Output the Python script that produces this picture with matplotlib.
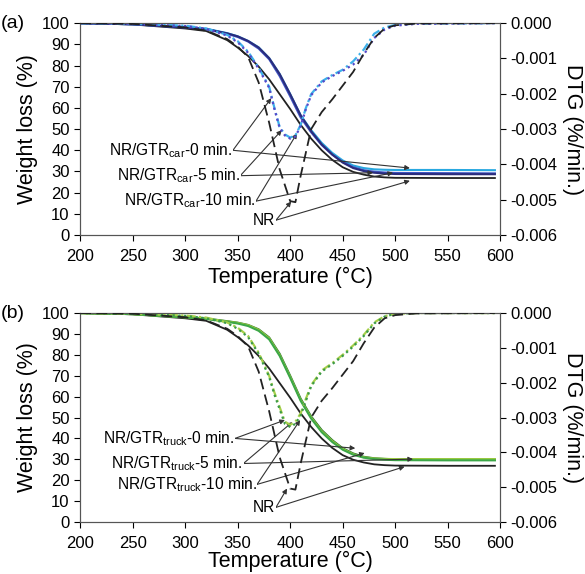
import matplotlib

matplotlib.use("Agg")

import matplotlib.pyplot as plt

plt.rcParams["font.family"] = ["Liberation Sans", "DejaVu Sans"]

# temperature grids (°C)
T_TG = [200, 250, 300, 320, 340, 350, 360, 370, 380, 390, 400, 410, 420, 430,
        440, 450, 460, 470, 480, 490, 500, 550, 595]
T_DTG_NR = [200, 250, 300, 320, 340, 350, 360, 370, 380, 390, 400, 405, 410, 420,
            430, 440, 450, 460, 470, 480, 490, 500, 520, 595]
T_DTG = [200, 250, 300, 320, 340, 350, 360, 370, 380, 385, 390, 395, 400, 405,
         410, 415, 420, 430, 440, 450, 460, 470, 480, 490, 500, 520, 595]

# weight loss (%) - NR (same in both panels)
TG_NR = [100, 99.4, 97.5, 96.3, 92, 88.5, 84.5, 79.5, 73.5, 66.5, 59.5, 52, 45.5,
         40, 35.5, 32, 29.8, 28.5, 27.6, 27.2, 27.0, 26.9, 26.9]
DTG_NR = [0, -0.00002, -0.00012, -0.00021, -0.00045, -0.00066, -0.00096, -0.00168,
          -0.00282, -0.00414, -0.00504, -0.00507, -0.00432, -0.00300, -0.00252,
          -0.00216, -0.00177, -0.00138, -0.00087, -0.00042, -0.00015, -0.00006,
          -0.00001, 0]

# (a) GTR car
TG_CAR_0 = [100, 99.5, 98.2, 97.4, 95.3, 93.8, 91.6, 88.6, 83.5, 76, 66.5, 56.5,
            49.5, 43.5, 38.8, 35.2, 32.8, 31.6, 31.0, 30.8, 30.7, 30.7, 30.6]
TG_CAR_5 = [100, 99.5, 98, 97.2, 95, 93.5, 91.3, 88, 83, 75, 65.5, 55.5, 48.5,
            42.5, 38, 34.5, 32, 30.6, 29.9, 29.5, 29.3, 29.2, 29.1]
TG_CAR_10 = [100, 99.5, 98, 97.2, 95.2, 93.8, 91.6, 88.5, 83.5, 76, 66.5, 56.5,
             49, 42.8, 38, 34.2, 31.6, 30.2, 29.4, 29.0, 28.8, 28.7, 28.7]
DTG_CAR_0 = [0, -0.00002, -0.00007, -0.00015, -0.00033, -0.00051, -0.00081, -0.00126,
             -0.00180, -0.00240, -0.00294, -0.00315, -0.00324, -0.00318, -0.00288,
             -0.00240, -0.00201, -0.00165, -0.00147, -0.00132, -0.00108, -0.00075,
             -0.00030, -0.00012, -0.00005, -0.00001, 0]
DTG_CAR_10 = [0, -0.00002, -0.00008, -0.00016, -0.00035, -0.00054, -0.00084, -0.00129,
              -0.00183, -0.00243, -0.00297, -0.00318, -0.00327, -0.00321, -0.00291,
              -0.00243, -0.00204, -0.00168, -0.00150, -0.00135, -0.00117, -0.00090,
              -0.00042, -0.00018, -0.00007, -0.00002, 0]

# (b) GTR truck
TG_TRUCK_0 = [100, 99.5, 98, 97.3, 96, 95.3, 94.2, 92, 88, 80, 69.5, 58.5, 50,
              43.5, 38.8, 35, 32.5, 31, 30.4, 30.2, 30.1, 30.1, 30.1]
TG_TRUCK_5 = [100, 99.5, 98, 97.2, 95.8, 95, 93.8, 91.5, 87.4, 79.5, 69, 58, 49.5,
              43, 38.3, 34.6, 32.2, 30.8, 30.1, 29.8, 29.6, 29.5, 29.5]
TG_TRUCK_10 = [100, 99.5, 98.1, 97.4, 96.1, 95.4, 94.3, 92.2, 88.3, 80.5, 70, 59,
               50.5, 44, 39.2, 35.3, 32.8, 31.2, 30.5, 30.2, 30.0, 29.9, 29.9]
DTG_TRUCK_0 = [0, -0.00002, -0.00007, -0.00013, -0.00027, -0.00042, -0.00066, -0.00114,
               -0.00180, -0.00228, -0.00270, -0.00312, -0.00321, -0.00312, -0.00288,
               -0.00246, -0.00207, -0.00165, -0.00144, -0.00120, -0.00093, -0.00063,
               -0.00027, -0.00009, -0.00002, 0, 0]
DTG_TRUCK_10 = [0, -0.00002, -0.00008, -0.00015, -0.00029, -0.00045, -0.00069, -0.00117,
                -0.00183, -0.00234, -0.00276, -0.00318, -0.00327, -0.00318, -0.00294,
                -0.00252, -0.00210, -0.00168, -0.00147, -0.00123, -0.00096, -0.00066,
                -0.00030, -0.00010, -0.00002, 0, 0]

# annotations: (label, text anchor (T, W), [arrow targets (T, W)])
ANN_CAR = [
    ("NR/GTR$_{\\mathregular{car}}$-0 min.", (345, 40), [(382, 64.6), (514, 31.6)]),
    ("NR/GTR$_{\\mathregular{car}}$-5 min.", (352, 28), [(392, 49.5), (479, 29.4)]),
    ("NR/GTR$_{\\mathregular{car}}$-10 min.", (367, 16), [(406.5, 48), (498, 29.4)]),
    ("NR", (386, 7), [(401, 15.8), (514, 25.6)]),
]
ANN_TRUCK = [
    ("NR/GTR$_{\\mathregular{truck}}$-0 min.", (347, 40), [(395, 48.8), (462, 35.3)]),
    ("NR/GTR$_{\\mathregular{truck}}$-5 min.", (355, 28), [(402, 47.8), (517, 30.1)]),
    ("NR/GTR$_{\\mathregular{truck}}$-10 min.", (368, 18), [(409.5, 48.8), (471, 33)]),
    ("NR", (386, 7), [(397, 16), (509, 26.5)]),
]

CAR_COLORS = ["#29A8E0", "#3F55C4", "#2B2C7C"]
CAR_DTG_COLORS = ["#3DB0EA", "#5648C8"]
TRUCK_COLORS = ["#1E6F30", "#9BCB3C", "#3CA748"]
TRUCK_DTG_COLORS = ["#A6D04A", "#3C9A48"]


def _draw_panel(ax, tg_list, tg_colors, dtg_list, dtg_colors, ann, tag, xpad):
    ax.plot(T_TG, TG_NR, color="#222222", lw=1.3, zorder=3)
    for tg, c in zip(tg_list, tg_colors):
        ax.plot(T_TG, tg, color=c, lw=1.5, zorder=3)
    ax.set_xlim(200, 600)
    ax.set_ylim(0, 100)
    ax.set_xticks(range(200, 601, 50))
    ax.set_yticks(range(0, 101, 10))
    ax.tick_params(labelsize=12, length=4, width=0.8)
    ax.tick_params(axis="x", pad=6)
    ax.set_xlabel("Temperature (°C)", fontsize=15.5, labelpad=xpad)
    ax.set_ylabel("Weight loss (%)", fontsize=15.5, labelpad=3)
    ax.text(-0.19, 1.0, tag, transform=ax.transAxes, fontsize=14, va="center")
    for sp in ax.spines.values():
        sp.set_color("#555555")

    ax2 = ax.twinx()
    ax2.plot(T_DTG_NR, DTG_NR, color="#222222", lw=1.3, ls=(0, (6, 3)), zorder=3)
    ax2.plot(T_DTG, dtg_list[0], color=dtg_colors[0], lw=1.6, ls=(0, (4, 1.5, 1, 1.5)))
    ax2.plot(T_DTG, dtg_list[1], color=dtg_colors[1], lw=1.6, ls=(0, (1, 1.6)))
    ax2.set_ylim(-0.006, 0.0)
    ax2.set_yticks([-0.006, -0.005, -0.004, -0.003, -0.002, -0.001, 0.0])
    ax2.set_yticklabels(["-0.006", "-0.005", "-0.004", "-0.003", "-0.002", "-0.001", "0.000"])
    ax2.tick_params(labelsize=12, length=4, width=0.8)
    ax2.set_ylabel("DTG (%/min.)", fontsize=15.5, rotation=270, labelpad=18)
    for sp in ax2.spines.values():
        sp.set_color("#555555")

    for label, (tx, ty), targets in ann:
        ax.text(tx, ty, label, fontsize=11.2, ha="right", va="center", zorder=5,
                bbox=dict(boxstyle="square,pad=0.05", fc="white", ec="none"))
        for px, py in targets:
            ax.annotate("", xy=(px, py), xytext=(tx + 0.5, ty),
                        arrowprops=dict(arrowstyle="-|>", color="#333333", lw=0.8,
                                        mutation_scale=7, shrinkA=0, shrinkB=0),
                        zorder=4)
    return ax2


fig = plt.figure(figsize=(5.85, 5.74), dpi=100)
ax_a = fig.add_axes([0.137, 0.5906, 0.718, 0.369])
ax_b = fig.add_axes([0.137, 0.0906, 0.718, 0.364])

_draw_panel(ax_a, [TG_CAR_0, TG_CAR_5, TG_CAR_10], CAR_COLORS,
            [DTG_CAR_0, DTG_CAR_10], CAR_DTG_COLORS, ANN_CAR, "(a)", 2)
_draw_panel(ax_b, [TG_TRUCK_10, TG_TRUCK_0, TG_TRUCK_5], TRUCK_COLORS,
            [DTG_TRUCK_0, DTG_TRUCK_10], TRUCK_DTG_COLORS, ANN_TRUCK, "(b)", 0)

fig.savefig("out.png", dpi=100)
